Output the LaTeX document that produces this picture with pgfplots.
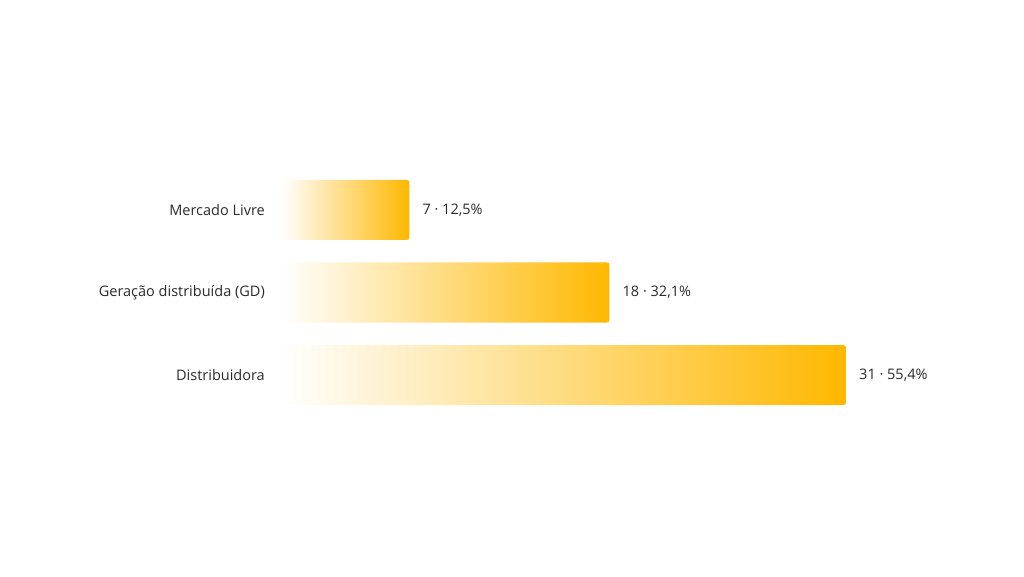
\documentclass[border=0pt]{standalone}
\usepackage{fontspec}
\setmainfont{Open Sans}
\usepackage{pgfplots}
\pgfplotsset{compat=1.18}
\definecolor{amber}{HTML}{FFB800}
\definecolor{labelgray}{HTML}{2A2A2A}
\pgfplotsset{
  gradbar/.style={xbar, bar width=60pt, draw=none, left color=white, right color=amber,
    rounded corners=2.5pt,
    point meta=explicit symbolic,
    nodes near coords,
    nodes near coords style={anchor=west, inner sep=0pt, xshift=13pt,
      font=\fontsize{14.5}{16}\selectfont, text=labelgray}},
}
\begin{document}
\begin{tikzpicture}[x=1pt,y=1pt]
% canvas
\path (0,0) rectangle (1024,576);
\begin{axis}[
  at={(282pt,159.75pt)}, anchor=south west,
  scale only axis, width=564pt, height=247.5pt,
  xmin=0, xmax=31, ymin=-0.5, ymax=2.5,
  clip=false,
  axis line style={draw=none},
  xtick=\empty,
  ytick={0,1,2},
  yticklabels={Distribuidora, Geração distribuída (GD), Mercado Livre},
  ytick style={draw=none},
  major tick length=0pt,
  yticklabel style={font=\fontsize{14.5}{16}\selectfont, text=labelgray, inner sep=0pt, xshift=-17pt},
]
% one plot per bar so that each bar gets its own gradient
\addplot[gradbar] coordinates {(31,0) [31 · 55,4\%]};
\addplot[gradbar] coordinates {(18,1) [18 · 32,1\%]};
\addplot[gradbar] coordinates {(7,2) [7 · 12,5\%]};
\end{axis}
\end{tikzpicture}
\end{document}
